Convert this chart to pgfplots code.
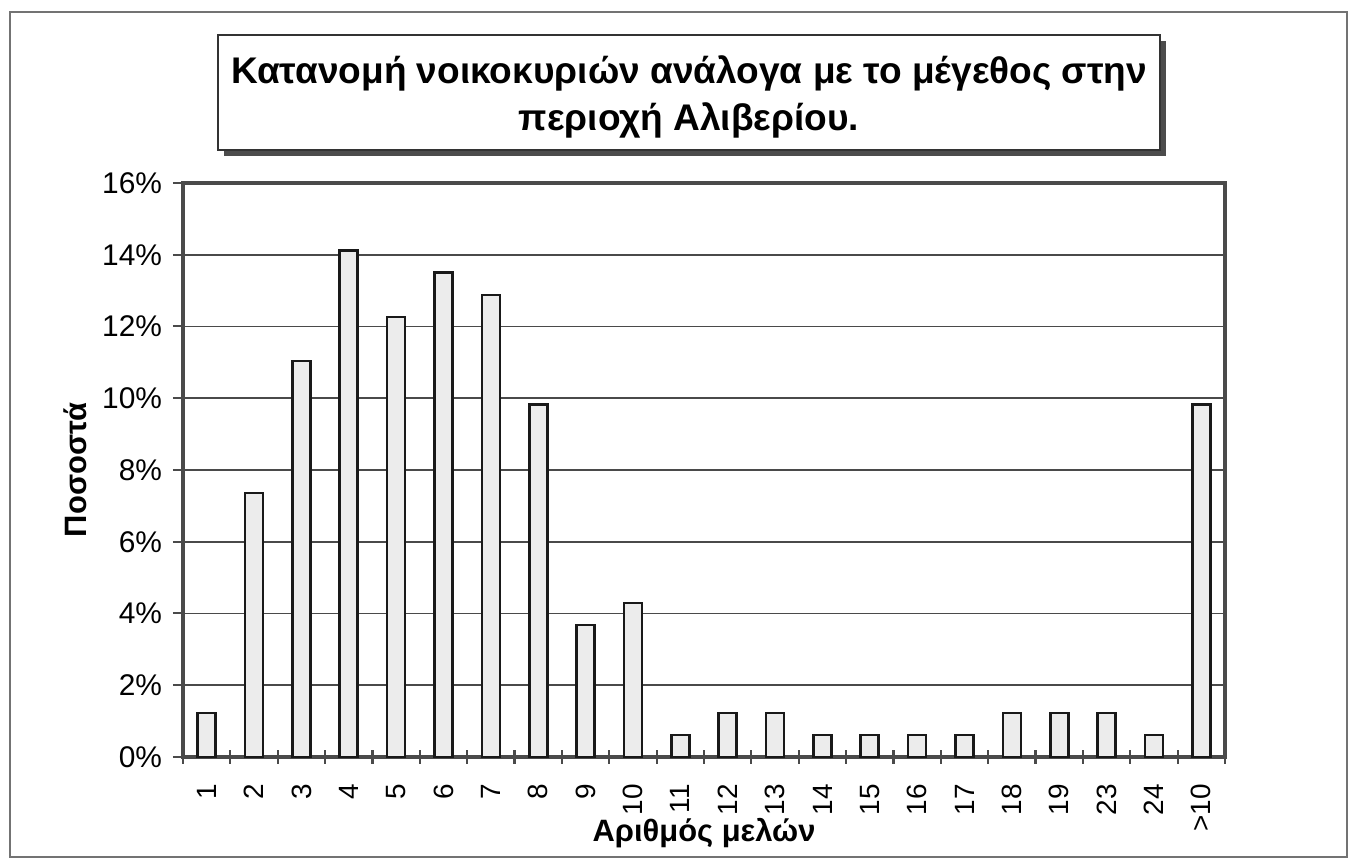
\documentclass[border=0pt]{standalone}
\usepackage{pgfplots}
\pgfplotsset{compat=1.18}
\usepackage{fontspec}
\setmainfont{Liberation Sans}
\definecolor{axisgray}{HTML}{4A4A4A}
\definecolor{barfill}{HTML}{ECECEC}
\begin{document}
\begin{tikzpicture}
\useasboundingbox (0,0) rectangle (681.5bp,433.5bp);
% outer frame
\draw[line width=1.2bp, black!55] (5bp,5bp) rectangle (673.5bp,427.5bp);
% title box with shadow
\fill[black!70] (112bp,355.5bp) rectangle (583bp,413bp);
\draw[line width=1bp, black!80, fill=white] (109bp,358.5bp) rectangle (580bp,416bp);
\node[align=center, font=\fontsize{18.6}{24}\selectfont\bfseries] at (344.5bp,385bp)
  {Κατανομή νοικοκυριών ανάλογα με το μέγεθος στην\\περιοχή Αλιβερίου.};
\begin{axis}[
    at={(91.5bp,55bp)}, anchor=south west,
    scale only axis, width=521bp, height=287bp,
    ybar, bar width=9bp,
    xmin=0.5, xmax=22.5, ymin=0, ymax=16,
    tick pos=left,
    xtick={1,...,22},
    xticklabels={1,2,3,4,5,6,7,8,9,10,11,12,13,14,15,16,17,18,19,23,24,>10},
    xtick style={draw=none},
    xticklabel style={rotate=90, anchor=east, font=\fontsize{14}{16}\selectfont},
    xticklabel shift=5bp,
    extra x ticks={0.5,1.5,...,22.5},
    extra x tick labels={},
    extra x tick style={tick align=center, tick pos=left, major tick length=7bp,
        xtick style={draw=axisgray, line width=1.1bp}},
    ytick={0,2,...,16},
    yticklabels={0\%,2\%,4\%,6\%,8\%,10\%,12\%,14\%,16\%},
    yticklabel style={font=\fontsize{15}{17}\selectfont},
    yticklabel shift=2bp,
    tick align=outside, major tick length=5bp,
    ytick style={draw=axisgray, line width=1bp},
    ymajorgrids,
    grid style={draw=axisgray, line width=0.9bp},
    axis line style={draw=axisgray, line width=1.7bp},
    clip=false,
]
\addplot[draw=black!90, fill=barfill, line width=1.3bp] coordinates {
    (1,1.23) (2,7.36) (3,11.04) (4,14.11) (5,12.27) (6,13.50) (7,12.88)
    (8,9.82) (9,3.68) (10,4.29) (11,0.61) (12,1.23) (13,1.23) (14,0.61)
    (15,0.61) (16,0.61) (17,0.61) (18,1.23) (19,1.23) (20,1.23) (21,0.61)
    (22,9.82)
};
\end{axis}
\node[font=\fontsize{15.5}{18}\selectfont\bfseries] at (352bp,17bp) {Αριθμός μελών};
\node[font=\fontsize{15.5}{18}\selectfont\bfseries, rotate=90] at (37.5bp,198.5bp) {Ποσοστά};
\end{tikzpicture}
\end{document}
